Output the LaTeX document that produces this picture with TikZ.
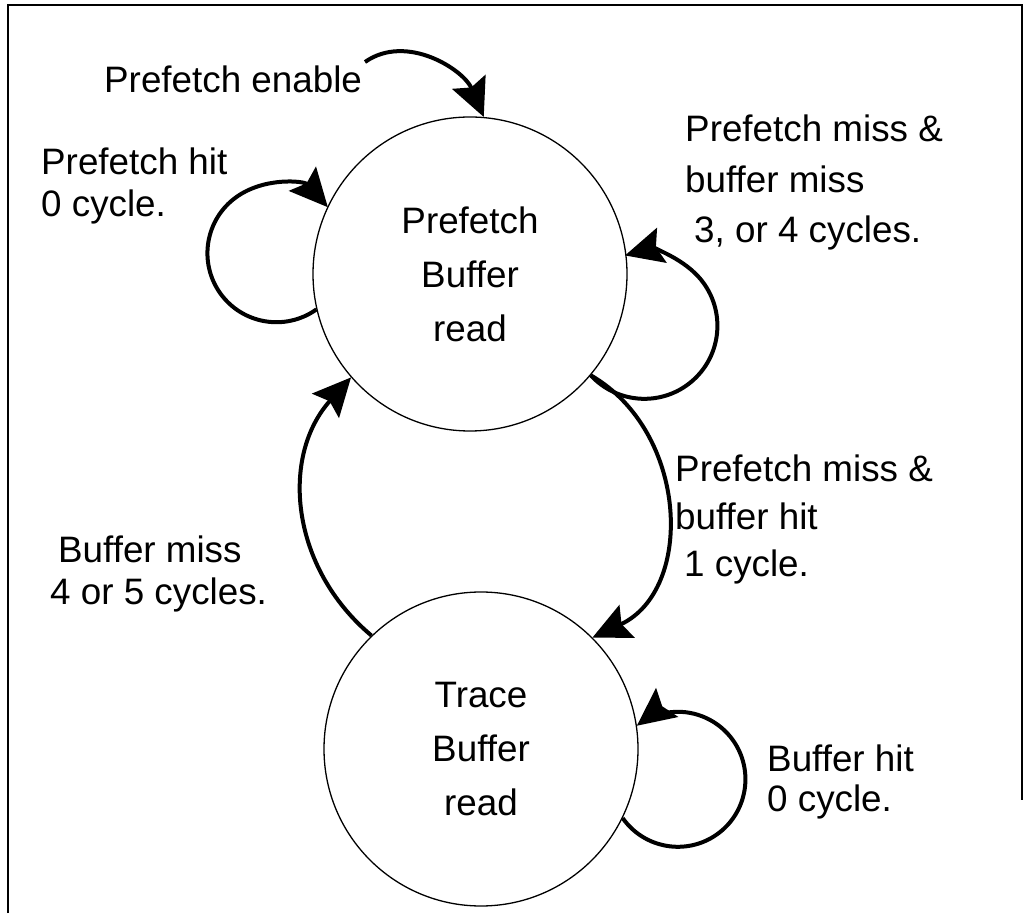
\documentclass[tikz,border=0pt]{standalone}
\usepackage{fontspec}
\setmainfont{Liberation Sans}
\usetikzlibrary{arrows.meta}

\begin{document}
\begin{tikzpicture}[x=1pt, y=1pt,
    state/.style={draw, circle, line width=1.3pt, minimum size=314pt, inner sep=0pt,
        align=center, font=\fontsize{36.8}{54}\selectfont},
    lbl/.style={anchor=base west, inner sep=0pt, align=left, font=\fontsize{36.8}{#1}\selectfont},
    trans/.style={line width=4pt, -{Stealth[length=38pt, width=36pt, inset=6pt]}}]
    \useasboundingbox (0,0) rectangle (1030,913);
    \draw[line width=2pt] (8,0) -- (8,908) -- (1022,908) -- (1022,113);

    \node[state] at (470,639) (pbr) {Prefetch\\Buffer\\read};
    \node[state] at (481,164) (tbr) {Trace\\Buffer\\read};

    \node[lbl=42] at (104,820) (enable) {Prefetch enable};
    \node[lbl=42] at (41,696) (phit) {Prefetch hit\\0 cycle.};
    \node[lbl=50.5] at (685,670) (pmiss) {Prefetch miss \&\\buffer miss\\\hspace*{9pt}3, or 4 cycles.};
    \node[lbl=47.5] at (675,336) (phitb) {Prefetch miss \&\\buffer hit\\\hspace*{9pt}1 cycle.};
    \node[lbl=42] at (50,308) (bmiss) {\hspace*{8pt}Buffer miss\\4 or 5 cycles.};
    \node[lbl=40] at (767,102) (bhit) {Buffer hit\\0 cycle.};

    \coordinate (enstart) at (365,851);

    \draw[trans] (enstart) to[out=35, in=113] (pbr.85);
    \draw[trans] (pbr.193) arc[start angle=-54.6, delta angle=-263.6, radius=69];
    \draw[trans] (pbr.-40) arc[start angle=-137.3, delta angle=242.7, radius=73];
    \draw[trans] (pbr.-40) to[out=-30, in=25, looseness=1.1] (tbr.45);
    \draw[trans] (tbr.134) to[out=140, in=228, looseness=1.05] (pbr.221);
    \draw[trans] (tbr.-26) arc[start angle=-144.9, delta angle=272.4, radius=67.5];
\end{tikzpicture}
\end{document}
